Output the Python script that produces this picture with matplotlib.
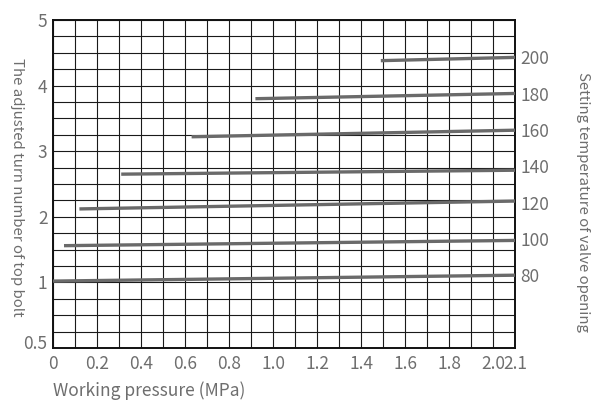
import numpy as np
import matplotlib
matplotlib.use("Agg")
import matplotlib.pyplot as plt
import matplotlib.transforms as mtransforms

plt.rcParams['font.family'] = ['Noto Sans CJK SC', 'DejaVu Sans']

# setting temperature of each line and where it is drawn
temps = [80, 100, 120, 140, 160, 180, 200]
p_start = [0.0, 0.05, 0.12, 0.31, 0.63, 0.92, 1.49]
p_end = 2.1
turns_start = [1.02, 1.56, 2.12, 2.65, 3.22, 3.80, 4.38]
turns_end = [1.11, 1.64, 2.24, 2.71, 3.32, 3.88, 4.43]

x_ticks = [0, 0.2, 0.4, 0.6, 0.8, 1.0, 1.2, 1.4, 1.6, 1.8, 2.0, 2.1]
x_ticklabels = ['0', '0.2', '0.4', '0.6', '0.8', '1.0', '1.2', '1.4', '1.6', '1.8', '2.0', '2.1']
y_ticks = [0, 1, 2, 3, 4, 5]
y_ticklabels = ['0.5', '1', '2', '3', '4', '5']
t_ticks = [80, 100, 120, 140, 160, 180, 200]

txt = '#6e6e6e'
line_col = '#6a6a6a'

fig = plt.figure(figsize=(6.10, 4.12), dpi=100)
ax = fig.add_axes([0.0869, 0.1553, 0.7574, 0.7962])

for ps, t0, t1 in zip(p_start, turns_start, turns_end):
    ax.plot([ps, p_end], [t0, t1], color=line_col, lw=2.4, solid_capstyle='butt', zorder=3)

ax.set_xlim(0, 2.1)
ax.set_ylim(0, 5)
ax.set_xticks(x_ticks)
ax.set_xticklabels(x_ticklabels)
ax.set_yticks(y_ticks)
ax.set_yticklabels(y_ticklabels)
ax.set_xticks(np.arange(0, 2.11, 0.1), minor=True)
ax.set_yticks(np.arange(0, 5.01, 0.25), minor=True)
ax.grid(which='both', color='#1a1a1a', lw=0.8)
ax.tick_params(which='both', length=0)
ax.tick_params(axis='x', pad=5, labelsize=12.5, labelcolor=txt)
ax.tick_params(axis='y', pad=4, labelsize=12.5, labelcolor=txt)
# the bottom label sits a little above the frame in the original
lab0 = ax.yaxis.get_major_ticks()[0].label1
lab0.set_transform(lab0.get_transform()
                   + mtransforms.ScaledTranslation(0, 4 / 72, fig.dpi_scale_trans))
for s in ax.spines.values():
    s.set_linewidth(1.4)
    s.set_color('#111111')

ax.set_xlabel('Working pressure (MPa)', loc='left', fontsize=12.5, color=txt, labelpad=6)
ax.set_ylabel('The adjusted turn number of top bolt', rotation=270, fontsize=10.8,
              color=txt, va='center')
ax.yaxis.set_label_coords(-0.078, 0.49, transform=ax.transAxes)

# right axis: temperature, aligned with the line ends
t_lo, t_hi = 80, 200
y_lo, y_hi = turns_end[0], turns_end[-1]


def to_temp(y):
    return t_lo + (np.asarray(y) - y_lo) * (t_hi - t_lo) / (y_hi - y_lo)


def to_turns(t):
    return y_lo + (np.asarray(t) - t_lo) * (y_hi - y_lo) / (t_hi - t_lo)


sec = ax.secondary_yaxis('right', functions=(to_temp, to_turns))
sec.set_yticks(t_ticks)
sec.tick_params(length=0, pad=4, labelsize=12.5, labelcolor=txt)
sec.spines['right'].set_visible(False)
sec.set_ylabel('Setting temperature of valve opening', rotation=270, fontsize=10.8,
               color=txt, va='center')
sec.yaxis.set_label_coords(1.147, 0.445, transform=ax.transAxes)

fig.savefig('out.png', dpi=100)
